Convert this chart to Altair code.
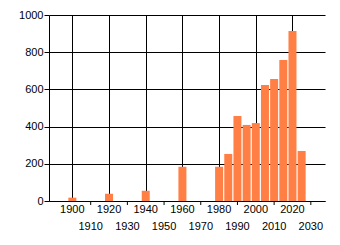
import altair as alt
import pandas as pd

years = [1900, 1920, 1940, 1960, 1980, 1985, 1990, 1995, 2000, 2005, 2010, 2015, 2020, 2025]
counts = [18, 39, 55, 184, 184, 253, 457, 409, 419, 624, 656, 758, 914, 269]
upper_labels = [1900, 1920, 1940, 1960, 1980, 2000, 2020]
lower_labels = [1910, 1930, 1950, 1970, 1990, 2010, 2030]
grid_years = [1900, 1910, 1920, 1930, 1940, 1950, 1960, 1970, 1980, 1990, 2000, 2010, 2020, 2030]
y_ticks = [0, 200, 400, 600, 800, 1000]

bars_df = pd.DataFrame({"year": years, "count": counts})
up_df = pd.DataFrame({"year": upper_labels})
low_df = pd.DataFrame({"year": lower_labels})

FONT = "Liberation Sans"
xscale = alt.Scale(domain=[1890, 2035], nice=False, zero=False)
yscale = alt.Scale(domain=[0, 1000], nice=False)

bars = alt.Chart(bars_df).mark_bar(size=8, color="#FF7F45").encode(
    x=alt.X("year:Q", scale=xscale,
            axis=alt.Axis(values=grid_years, grid=True, gridColor="black", gridOpacity=1,
                          ticks=False, labels=False, title=None,
                          domainColor="black", domainWidth=1)),
    y=alt.Y("count:Q", scale=yscale,
            axis=alt.Axis(values=y_ticks, grid=True, gridColor="black", gridOpacity=1,
                          tickColor="black", tickSize=5, labelPadding=1, format="d",
                          labelFont=FONT, labelFontSize=11, labelColor="black",
                          title=None, domainColor="black")),
)

up_text = alt.Chart(up_df).mark_text(font=FONT, fontSize=11, color="black", baseline="middle").encode(
    x=alt.X("year:Q", scale=xscale),
    y=alt.value(195),
    text=alt.Text("year:Q", format="d"),
)

low_text = alt.Chart(low_df).mark_text(font=FONT, fontSize=11, color="black", baseline="middle").encode(
    x=alt.X("year:Q", scale=xscale),
    y=alt.value(212),
    text=alt.Text("year:Q", format="d"),
)

low_ticks = alt.Chart(low_df).mark_rule(color="black", strokeWidth=1).encode(
    x=alt.X("year:Q", scale=xscale),
    y=alt.value(186),
    y2=alt.value(190),
)

chart = alt.layer(bars, low_ticks, up_text, low_text).properties(
    width=276, height=186,
    autosize=alt.AutoSizeParams(type="none"),
    padding={"left": 49, "top": 15, "right": 15, "bottom": 44},
    background="white",
).configure_view(stroke=None)

chart.save("out.html", embed_options={"renderer": "svg", "actions": False})
